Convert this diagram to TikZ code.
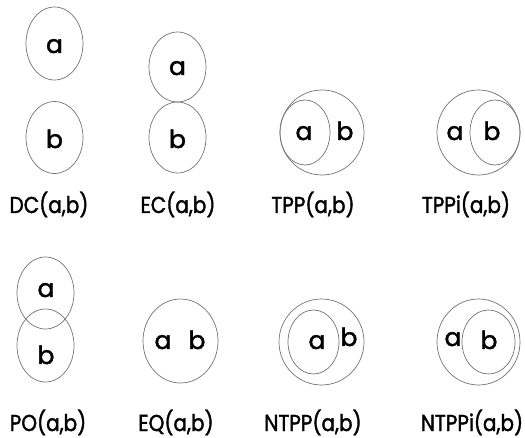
\documentclass[tikz,border=0pt]{standalone}
\usepackage{fontspec}
\setmainfont{Poppins}[FakeBold=1.8]
\begin{document}
\begin{tikzpicture}[x=1pt,y=-1pt,
  reg/.style={draw=black!55,line width=0.7pt},
  lt/.style={font=\fontsize{25}{25}\selectfont,inner sep=0pt,anchor=base},
  relname/.style={font=\fontsize{23}{23}\selectfont,inner sep=0pt,anchor=base,xscale=0.87}]
\useasboundingbox (0,0) rectangle (525,438);
% DC
\draw[reg] (54.5,43.5) ellipse [x radius=28.5,y radius=36.5];
\draw[reg] (54.5,137.5) ellipse [x radius=28.5,y radius=36];
\node[lt] (dca) at (54.5,53) {a};
\node[lt] (dcb) at (54.5,148) {b};
\node[relname] (dc) at (49,213) {DC(a,b)};
% EC
\draw[reg] (177.5,67) ellipse [x radius=28.5,y radius=35];
\draw[reg] (177.5,137.5) ellipse [x radius=28.5,y radius=35.5];
\node[lt] (eca) at (177.5,75) {a};
\node[lt] (ecb) at (177.5,148) {b};
\node[relname] (ec) at (178,213) {EC(a,b)};
% TPP
\draw[reg] (322,132.5) ellipse [x radius=42,y radius=42.5];
\draw[reg] (305,132.5) ellipse [x radius=25,y radius=32.5];
\node[lt] (tppa) at (304,140) {a};
\node[lt] (tppb) at (345,140) {b};
\node[relname] (tpp) at (313,213) {TPP(a,b)};
% TPPi
\draw[reg] (478.5,132.5) ellipse [x radius=41.5,y radius=42.5];
\draw[reg] (495,132.5) ellipse [x radius=25,y radius=32.5];
\node[lt] (tppia) at (455,140) {a};
\node[lt] (tppib) at (492,140) {b};
\node[relname] (tppi) at (466,213) {TPPi(a,b)};
% PO
\draw[reg] (45.5,293) ellipse [x radius=28.5,y radius=36];
\draw[reg] (45.5,345.5) ellipse [x radius=28.5,y radius=36.5];
\node[lt] (poa) at (46,297) {a};
\node[lt] (pob) at (46,364) {b};
\node[relname] (po) at (48,431) {PO(a,b)};
% EQ
\draw[reg] (180.5,341) ellipse [x radius=37.5,y radius=42];
\node[lt] (eqa) at (163,349) {a};
\node[lt] (eqb) at (197,349) {b};
\node[relname] (eq) at (176,431) {EQ(a,b)};
% NTPP
\draw[reg] (321.5,342) ellipse [x radius=42.5,y radius=43];
\draw[reg] (313.5,342) ellipse [x radius=25.5,y radius=32];
\node[lt] (ntppa) at (317,349) {a};
\node[lt] (ntppb) at (349,346) {b};
\node[relname] (ntpp) at (313,431) {NTPP(a,b)};
% NTPPi
\draw[reg] (478.5,342) ellipse [x radius=41.5,y radius=43];
\draw[reg] (488.5,342) ellipse [x radius=26.5,y radius=32];
\node[lt] (ntppia) at (453,346) {a};
\node[lt] (ntppib) at (489,349) {b};
\node[relname] (ntppi) at (472,431) {NTPPi(a,b)};
\end{tikzpicture}
\end{document}
